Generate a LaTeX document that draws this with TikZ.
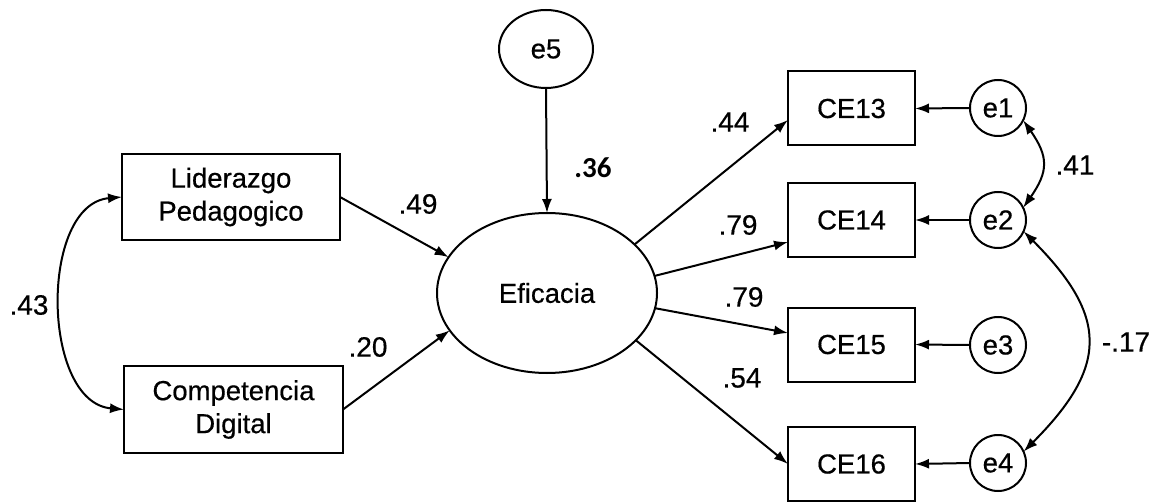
\documentclass[tikz,border=0pt]{standalone}
\usepackage{fontspec}
\setmainfont{Liberation Sans}[FakeBold=0.5]
\newfontfamily\boldlabfont{Carlito}
\usetikzlibrary{shapes.geometric,arrows.meta}
\begin{document}
\begin{tikzpicture}[x=1pt,y=-1pt,
  every node/.style={font=\fontsize{27.5}{33}\selectfont},
  obs/.style={draw,line width=2pt,rectangle,inner sep=0pt,outer sep=0pt,align=center},
  lat/.style={draw,line width=2pt,ellipse,inner sep=0pt,outer sep=0pt},
  err/.style={draw,line width=2pt,circle,inner sep=0pt,outer sep=0pt,minimum size=56pt},
  path/.style={line width=2pt,-{Latex[length=14pt,width=10pt]}},
  cov/.style={line width=2pt,{Latex[length=14pt,width=10pt]}-{Latex[length=14pt,width=10pt]}},
  lab/.style={font=\fontsize{28}{30}\selectfont,inner sep=0pt}]
\useasboundingbox (0,0) rectangle (1155,502);
\fill[white] (0,0) rectangle (1155,502);
% observed exogenous
\node[obs,minimum width=218pt,minimum height=86pt] (lid) at (231,197) {Liderazgo\\Pedagogico};
\node[obs,minimum width=219pt,minimum height=87pt] (comp) at (233.5,409.5) {Competencia\\Digital};
% latent
\node[lat,minimum width=220pt,minimum height=160pt] (efi) at (547,293) {Eficacia};
\node[lat,minimum width=94pt,minimum height=78pt] (e5) at (546,49) {e5};
% indicators
\node[obs,minimum width=127pt,minimum height=74pt] (ce13) at (851.5,108.5) {CE13};
\node[obs,minimum width=127pt,minimum height=74pt] (ce14) at (851.5,220) {CE14};
\node[obs,minimum width=127pt,minimum height=74pt] (ce15) at (851.5,344.5) {CE15};
\node[obs,minimum width=127pt,minimum height=74pt] (ce16) at (851.5,464) {CE16};
% errors
\node[err] (e1) at (998,108) {e1};
\node[err] (e2) at (998,220) {e2};
\node[err] (e3) at (998,345) {e3};
\node[err] (e4) at (998,463) {e4};
% paths
\draw[path] (lid.east) -- (efi.160);
\draw[path] (comp.east) -- (efi.201.5);
\draw[path] (e5.south) -- (efi.north);
\draw[path] (efi.29) -- ([yshift=-11.5pt]ce13.west);
\draw[path] (efi.9.5) -- ([yshift=-22pt]ce14.west);
\draw[path] (efi.-8) -- ([yshift=11.5pt]ce15.west);
\draw[path] (efi.-28) -- (ce16.west);
\draw[path] (e1.west) -- (ce13.east);
\draw[path] (e2.west) -- (ce14.east);
\draw[path] (e3.west) -- (ce15.east);
\draw[path] (e4.west) -- (ce16.east);
% covariances
\draw[cov] (lid.west) to[out=185,in=175] (comp.west);
\draw[cov] (e1.-26) to[out=-55,in=55,looseness=1.3] (e2.26);
\draw[cov] (e2.-24) to[out=-45,in=45,looseness=1.4] (e4.24);
% labels
\node[lab] (l43) at (29,305) {.43};
\node[lab] (l49) at (418,204) {.49};
\node[lab] (l20) at (368,347) {.20};
\node[lab,font=\boldlabfont\bfseries\fontsize{29}{30}\selectfont] (l36) at (593,168) {.36};
\node[lab] (l44) at (730,122) {.44};
\node[lab] (l79a) at (738,225) {.79};
\node[lab] (l79b) at (744,297) {.79};
\node[lab] (l54) at (742,378) {.54};
\node[lab] (l41) at (1075,165) {.41};
\node[lab] (l17) at (1126,342) {-.17};
\end{tikzpicture}
\end{document}
